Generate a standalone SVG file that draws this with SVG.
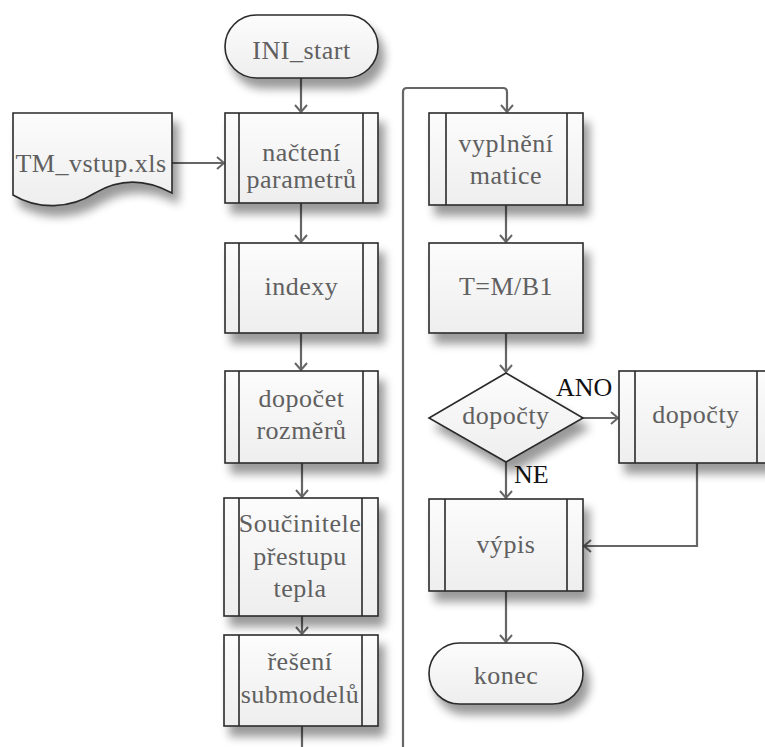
<svg xmlns="http://www.w3.org/2000/svg" width="765" height="747" viewBox="0 0 765 747">
<defs>
<linearGradient id="fillg" x1="0" y1="0" x2="0" y2="1">
<stop offset="0" stop-color="#fcfcfc"/>
<stop offset="1" stop-color="#eeeeee"/>
</linearGradient>
<filter id="sh" x="-20%" y="-20%" width="150%" height="160%">
<feGaussianBlur in="SourceAlpha" stdDeviation="5"/>
<feOffset dx="6" dy="10" result="b"/>
<feComponentTransfer><feFuncA type="linear" slope="0.4"/></feComponentTransfer>
<feMerge><feMergeNode/><feMergeNode in="SourceGraphic"/></feMerge>
</filter>
<marker id="arr" markerUnits="userSpaceOnUse" markerWidth="16" markerHeight="16" viewBox="-10 -8 12 16" refX="0" refY="0" orient="auto">
<path d="M-7,-6 L0,0 L-7,6" fill="none" stroke="#666" stroke-width="2"/>
</marker>
</defs>
<style>
.shape{fill:url(#fillg);stroke:#2a2a2a;stroke-width:1.6;filter:url(#sh)}
.inner{stroke:#2a2a2a;stroke-width:1.6;fill:none}
.t{font-family:"Liberation Serif","Times New Roman",serif;font-size:26px;letter-spacing:0.5px;fill:#606060;text-anchor:middle}
.lbl{font-family:"Liberation Serif","Times New Roman",serif;font-size:26px;fill:#111}
.c{fill:none;stroke:#666;stroke-width:2.2}
.ca{fill:none;stroke:#666;stroke-width:2.2;marker-end:url(#arr)}
</style>
<g id="connectors">
<path class="ca" d="M301,78 V112"/>
<path class="ca" d="M172,163 H224"/>
<path class="ca" d="M301,203 V242"/>
<path class="ca" d="M301,333 V370"/>
<path class="ca" d="M302,463 V497"/>
<path class="ca" d="M302,616 V634"/>
<path class="c" d="M302,726 V747"/>
<path class="ca" d="M403,747 V92 Q403,88 407,88 H503 Q507,88 507,92 V112"/>
<path class="ca" d="M506,205 V242"/>
<path class="ca" d="M506,333 V372"/>
<path class="ca" d="M583,418 H618"/>
<path class="ca" d="M506,462 V498"/>
<path class="ca" d="M697,463 V546 H584"/>
<path class="ca" d="M506,591 V642"/>
</g>
<g id="ini_start">
<rect class="shape" x="225" y="15" width="153" height="63" rx="31.5"/>
<text class="t" x="301.5" y="59">INI_start</text>
</g>
<g id="tm_vstup">
<path class="shape" d="M13,113 H172 V193 C148,180 122,177 95,193 C70,209 38,210 13,195 Z"/>
<text class="t" x="91" y="172">TM_vstup.xls</text>
</g>
<g id="nacteni">
<rect class="shape" x="225" y="113" width="153" height="90"/>
<path class="inner" d="M239,113 V203 M363,113 V203"/>
<text class="t" x="301.5" y="161">načtení</text>
<text class="t" x="301.5" y="188">parametrů</text>
</g>
<g id="indexy">
<rect class="shape" x="225" y="243" width="153" height="90"/>
<path class="inner" d="M239,243 V333 M363,243 V333"/>
<text class="t" x="301.5" y="295">indexy</text>
</g>
<g id="dopocet">
<rect class="shape" x="225" y="371" width="153" height="92"/>
<path class="inner" d="M239,371 V463 M363,371 V463"/>
<text class="t" x="301.5" y="407">dopočet</text>
<text class="t" x="301.5" y="439">rozměrů</text>
</g>
<g id="soucinitele">
<rect class="shape" x="224" y="498" width="154" height="118"/>
<path class="inner" d="M239,498 V616 M362,498 V616"/>
<text class="t" x="300" y="532">Součinitele</text>
<text class="t" x="300" y="565">přestupu</text>
<text class="t" x="300" y="597">tepla</text>
</g>
<g id="reseni">
<rect class="shape" x="224" y="635" width="154" height="91"/>
<path class="inner" d="M239,635 V726 M362,635 V726"/>
<text class="t" x="300" y="670">řešení</text>
<text class="t" x="300" y="703">submodelů</text>
</g>
<g id="vyplneni">
<rect class="shape" x="429" y="113" width="154" height="92"/>
<path class="inner" d="M446,113 V205 M567,113 V205"/>
<text class="t" x="506" y="152">vyplnění</text>
<text class="t" x="506" y="184">matice</text>
</g>
<g id="tmb1">
<rect class="shape" x="429" y="243" width="154" height="90"/>
<text class="t" x="506" y="295">T=M/B1</text>
</g>
<g id="decision">
<path class="shape" d="M506,373 L583,418 L506,462 L429,418 Z"/>
<text class="t" x="506" y="424">dopočty</text>
<text class="lbl" x="556" y="396">ANO</text>
<text class="lbl" x="514" y="483">NE</text>
</g>
<g id="dopocty">
<rect class="shape" x="619" y="371" width="154" height="92"/>
<path class="inner" d="M635,371 V463 M757,371 V463"/>
<text class="t" x="696" y="423">dopočty</text>
</g>
<g id="vypis">
<rect class="shape" x="429" y="499" width="154" height="92"/>
<path class="inner" d="M445,499 V591 M567,499 V591"/>
<text class="t" x="506" y="553">výpis</text>
</g>
<g id="konec">
<rect class="shape" x="429" y="643" width="154" height="61" rx="30.5"/>
<text class="t" x="506" y="684">konec</text>
</g>
</svg>
